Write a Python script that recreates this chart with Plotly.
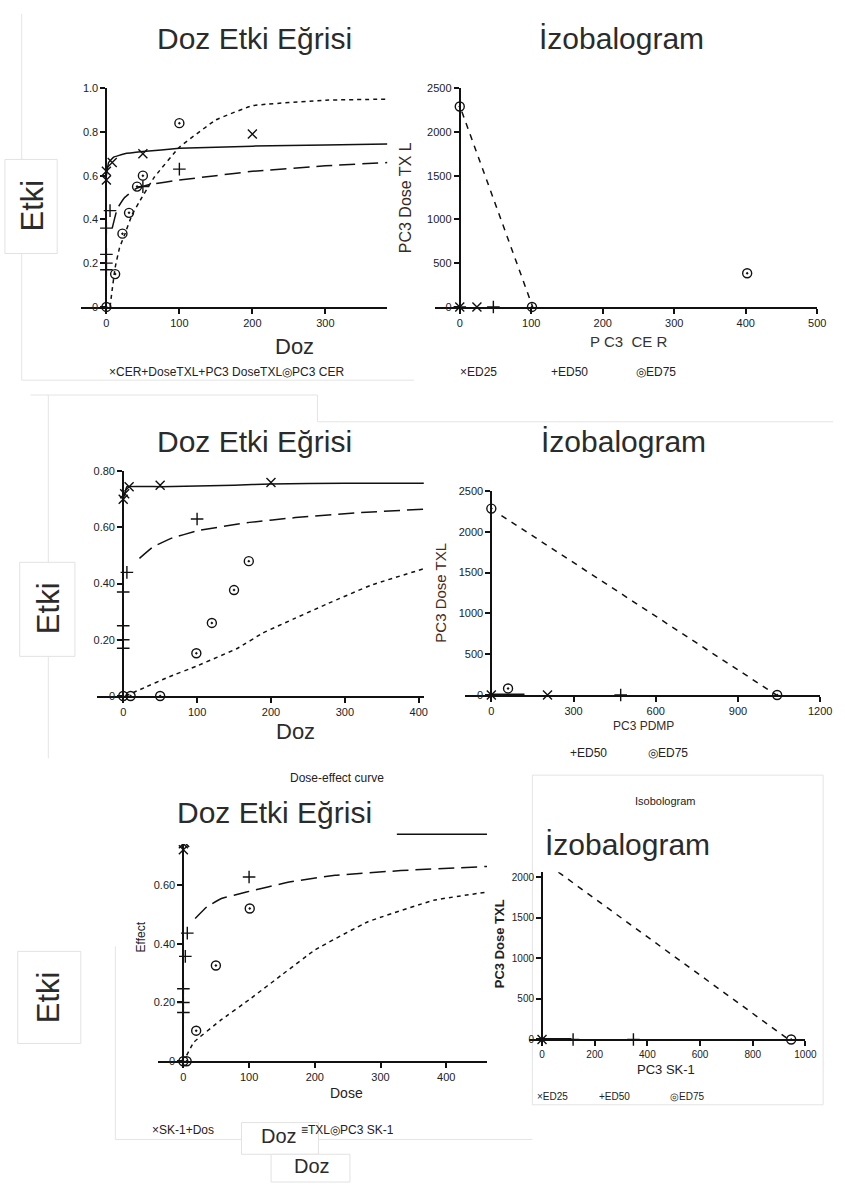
import plotly.graph_objects as go

W, H = 845, 1188


def fx(p):
    return p / W


def fy(p):
    return 1 - p / H


# ---------------- data ----------------
# Panel 1 : Doz Etki Egrisi (CER + TXL)
p1_solid_x = [0, 3, 10, 25, 50, 100, 200, 300, 385]
p1_solid_y = [0.60, 0.66, 0.685, 0.70, 0.71, 0.725, 0.735, 0.74, 0.745]
p1_long_x = [8, 15, 25, 40, 60, 100, 150, 200, 300, 385]
p1_long_y = [0.36, 0.45, 0.50, 0.54, 0.56, 0.58, 0.60, 0.62, 0.645, 0.66]
p1_dot_x = [5, 8, 12, 18, 25, 35, 45, 65, 100, 150, 200, 300, 385]
p1_dot_y = [0, 0.08, 0.18, 0.27, 0.33, 0.42, 0.48, 0.59, 0.73, 0.855, 0.92, 0.945, 0.95]
p1_comb_x = [0, 0, 8, 50, 200]
p1_comb_y = [0.58, 0.62, 0.66, 0.70, 0.79]
p1_txl_x = [0, 0, 0, 0, 5, 50, 100]
p1_txl_y = [0.17, 0.20, 0.24, 0.36, 0.44, 0.55, 0.63]
p1_cer_x = [0, 12, 22, 31, 42, 50, 100]
p1_cer_y = [0, 0.15, 0.335, 0.43, 0.55, 0.60, 0.84]

# Panel 2 : Izobalogram (PC3 CER)
p2_line_x = [3, 102]
p2_line_y = [2230, 0]
p2_ed25_x = [0, 24]
p2_ed25_y = [0, 0]
p2_ed50_x = [0, 47]
p2_ed50_y = [0, 0]
p2_ed75_x = [0, 101, 402]
p2_ed75_y = [2290, 0, 385]

# Panel 3 : Doz Etki Egrisi (PDMP + TXL)
p3_solid_x = [0, 3, 5, 50, 150, 200, 300, 407]
p3_solid_y = [0.70, 0.73, 0.745, 0.745, 0.75, 0.755, 0.757, 0.757]
p3_long_x = [22, 40, 64, 100, 171, 233, 322, 407]
p3_long_y = [0.49, 0.53, 0.56, 0.588, 0.618, 0.635, 0.653, 0.665]
p3_dot_x = [3, 29, 60, 100, 155, 189, 233, 278, 336, 407]
p3_dot_y = [0, 0.03, 0.066, 0.107, 0.17, 0.224, 0.277, 0.33, 0.395, 0.453]
p3_comb_x = [0, 2, 8, 50, 200]
p3_comb_y = [0.70, 0.72, 0.745, 0.75, 0.76]
p3_txl_x = [0, 0, 0, 0, 5, 100]
p3_txl_y = [0.17, 0.20, 0.25, 0.37, 0.44, 0.63]
p3_pdmp_x = [0, 10, 50, 99, 120, 150, 170]
p3_pdmp_y = [0, 0, 0, 0.152, 0.26, 0.377, 0.48]

# Panel 4 : Izobalogram (PC3 PDMP)
p4_line_x = [37, 1040]
p4_line_y = [2200, 0]
p4_seg_x = [0, 121]
p4_seg_y = [0, 0]
p4_ed25_x = [0, 205]
p4_ed25_y = [0, 0]
p4_ed50_x = [0, 472]
p4_ed50_y = [0, 0]
p4_ed75_x = [0, 1043, 61]
p4_ed75_y = [2285, 0, 80]

# Panel 5 : Dose-effect curve (SK-1 + TXL)
p5_solid_x = [0, 3, 10, 50, 100, 200, 300, 462]
p5_solid_y = [0.74, 0.76, 0.765, 0.77, 0.77, 0.772, 0.773, 0.773]
p5_long_x = [18, 36, 58, 96, 161, 231, 331, 462]
p5_long_y = [0.486, 0.526, 0.554, 0.576, 0.61, 0.633, 0.649, 0.663]
p5_dot_x = [5, 16, 56, 101, 151, 201, 281, 381, 462]
p5_dot_y = [0.02, 0.065, 0.138, 0.211, 0.296, 0.38, 0.475, 0.548, 0.576]
p5_comb_x = [0, 0, 2]
p5_comb_y = [0.72, 0.74, 0.745]
p5_txl_x = [0, 0, 0, 3, 6, 100]
p5_txl_y = [0.166, 0.20, 0.247, 0.357, 0.436, 0.627]
p5_sk_x = [0, 5, 19.5, 49.5, 101]
p5_sk_y = [0, 0, 0.104, 0.326, 0.52]

# Panel 6 : Isobologram (PC3 SK-1)
p6_line_x = [62, 936]
p6_line_y = [2060, 0]
p6_seg_x = [0, 112]
p6_seg_y = [0, 0]
p6_ed25_x = [0]
p6_ed25_y = [0]
p6_ed50_x = [118, 347]
p6_ed50_y = [0, 0]
p6_ed75_x = [946]
p6_ed75_y = [0]

# tick values / labels
p1_xt = [0, 100, 200, 300]
p1_yt = [0, 0.2, 0.4, 0.6, 0.8, 1.0]
p1_ytl = ["0", "0.2", "0.4", "0.6", "0.8", "1.0"]
p2_xt = [0, 100, 200, 300, 400, 500]
p2_yt = [0, 500, 1000, 1500, 2000, 2500]
p3_xt = [0, 100, 200, 300, 400]
p3_yt = [0, 0.2, 0.4, 0.6, 0.8]
p3_ytl = ["0", "0.20", "0.40", "0.60", "0.80"]
p4_xt = [0, 300, 600, 900, 1200]
p4_yt = [0, 500, 1000, 1500, 2000, 2500]
p5_xt = [0, 100, 200, 300, 400]
p5_yt = [0, 0.2, 0.4, 0.6]
p5_ytl = ["0", "0.20", "0.40", "0.60"]
p6_xt = [0, 200, 400, 600, 800, 1000]
p6_yt = [0, 500, 1000, 1500, 2000]

# ---------------- figure ----------------
fig = go.Figure()
BLACK = "#111111"
LONG = "16px,7px"
SHORT = "4px,4px"
ISO = "6px,6px"


def line(x, y, n, dash="solid", width=1.5):
    xa = "x" if n == 1 else "x%d" % n
    ya = "y" if n == 1 else "y%d" % n
    fig.add_trace(go.Scatter(x=x, y=y, xaxis=xa, yaxis=ya, mode="lines",
                             line=dict(color=BLACK, width=width, dash=dash,
                                       shape="spline", smoothing=0.25),
                             showlegend=False, hoverinfo="skip"))


def pts(x, y, n, symbol, size=9):
    xa = "x" if n == 1 else "x%d" % n
    ya = "y" if n == 1 else "y%d" % n
    fig.add_trace(go.Scatter(x=x, y=y, xaxis=xa, yaxis=ya, mode="markers",
                             marker=dict(symbol=symbol, size=size, color=BLACK,
                                         line=dict(color=BLACK, width=1.4)),
                             cliponaxis=False, showlegend=False, hoverinfo="skip"))


XS, PS, OS = "x-thin-open", "cross-thin-open", "circle-open-dot"

# panel 1
line(p1_solid_x, p1_solid_y, 1)
line(p1_long_x, p1_long_y, 1, LONG)
line(p1_dot_x, p1_dot_y, 1, SHORT)
pts(p1_comb_x, p1_comb_y, 1, XS)
pts(p1_txl_x, p1_txl_y, 1, PS)
pts(p1_cer_x, p1_cer_y, 1, OS)
# panel 2
line(p2_line_x, p2_line_y, 2, ISO)
pts(p2_ed25_x, p2_ed25_y, 2, XS)
pts(p2_ed50_x, p2_ed50_y, 2, PS)
pts(p2_ed75_x, p2_ed75_y, 2, OS)
# panel 3
line(p3_solid_x, p3_solid_y, 3)
line(p3_long_x, p3_long_y, 3, LONG)
line(p3_dot_x, p3_dot_y, 3, SHORT)
pts(p3_comb_x, p3_comb_y, 3, XS)
pts(p3_txl_x, p3_txl_y, 3, PS)
pts(p3_pdmp_x, p3_pdmp_y, 3, OS)
# panel 4
line(p4_line_x, p4_line_y, 4, ISO)
line(p4_seg_x, p4_seg_y, 4, "solid", 3)
pts(p4_ed25_x, p4_ed25_y, 4, XS)
pts(p4_ed50_x, p4_ed50_y, 4, PS)
pts(p4_ed75_x, p4_ed75_y, 4, OS)
# panel 5
line(p5_solid_x, p5_solid_y, 5)
line(p5_long_x, p5_long_y, 5, LONG)
line(p5_dot_x, p5_dot_y, 5, SHORT)
pts(p5_comb_x, p5_comb_y, 5, XS)
pts(p5_txl_x, p5_txl_y, 5, PS)
pts(p5_sk_x, p5_sk_y, 5, OS)
# panel 6
line(p6_line_x, p6_line_y, 6, ISO)
line(p6_seg_x, p6_seg_y, 6, "solid", 3)
pts(p6_ed25_x, p6_ed25_y, 6, XS)
pts(p6_ed50_x, p6_ed50_y, 6, PS)
pts(p6_ed75_x, p6_ed75_y, 6, OS)

TICKFONT = dict(family="Liberation Sans", size=11, color="#222222")


def axes(n, xpx, ypx, xr, yr, xt, yt, ytl=None, fs=11):
    xname = "xaxis" if n == 1 else "xaxis%d" % n
    yname = "yaxis" if n == 1 else "yaxis%d" % n
    ya = "y" if n == 1 else "y%d" % n
    zero_px = xpx[0] + (0 - xr[0]) / (xr[1] - xr[0]) * (xpx[1] - xpx[0])
    tf = dict(TICKFONT, size=fs)
    fig.layout[xname] = dict(domain=[fx(xpx[0]), fx(xpx[1])], range=xr, anchor=ya,
                             showgrid=False, zeroline=False, showline=True,
                             linecolor=BLACK, linewidth=2, ticks="outside",
                             ticklen=5, tickwidth=1.5, tickcolor=BLACK,
                             tickvals=xt, tickfont=tf, fixedrange=True)
    fig.layout[yname] = dict(domain=[fy(ypx[1]), fy(ypx[0])], range=yr, anchor="free",
                             position=fx(zero_px),
                             showgrid=False, zeroline=False, showline=True,
                             linecolor=BLACK, linewidth=2, ticks="outside",
                             ticklen=5, tickwidth=1.5, tickcolor=BLACK,
                             tickvals=yt, ticktext=ytl if ytl else [str(v) for v in yt],
                             tickfont=tf, fixedrange=True)


axes(1, (82, 393), (83, 304), [-35, 385], [0, 1.0], p1_xt, p1_yt, p1_ytl)
axes(2, (441, 829), (83, 304), [-35, 500], [0, 2500], p2_xt, p2_yt)
axes(3, (98, 430), (470, 697), [-36, 407], [0, 0.8], p3_xt, p3_yt, p3_ytl)
axes(4, (472, 832), (490, 696), [-95, 1200], [0, 2500], p4_xt, p4_yt)
axes(5, (160, 494), (828.6, 1066), [-39, 462], [0, 0.8], p5_xt, p5_yt, p5_ytl)
axes(6, (537, 817), (875, 1044), [-48, 1000], [0, 2060], p6_xt, p6_yt, fs=10)

shapes = []


def rect(x0, y0, x1, y1, fill="rgba(0,0,0,0)", color="#e4e4e4", layer="below", w=1):
    shapes.append(dict(type="rect", xref="paper", yref="paper",
                       x0=fx(x0), x1=fx(x1), y0=fy(y1), y1=fy(y0),
                       fillcolor=fill, line=dict(color=color, width=w), layer=layer))


def seg(x0, y0, x1, y1, color="#e4e4e4"):
    shapes.append(dict(type="line", xref="paper", yref="paper",
                       x0=fx(x0), x1=fx(x1), y0=fy(y0), y1=fy(y1),
                       line=dict(color=color, width=1), layer="below"))


# faint frames of the pasted images
seg(22, 8, 22, 378)
seg(22, 378, 420, 378)
seg(31, 393, 322, 393)
seg(322, 393, 322, 420)
seg(322, 420, 845, 420)
seg(49, 393, 49, 760)
seg(117, 950, 117, 1145)
seg(117, 1145, 540, 1145)
rect(540, 777, 835, 1110)
# white cover of the bottom title picture
rect(150, 792, 402, 846, fill="white", color="white", layer="above")
# white boxes behind Etki labels / Doz labels
rect(5, 155, 58, 250, fill="white", color="#e2e2e2", layer="above")
rect(20, 562, 76, 657, fill="white", color="#e2e2e2", layer="above")
rect(18, 955, 82, 1048, fill="white", color="#e2e2e2", layer="above")
rect(245, 1128, 323, 1160, fill="white", color="#e2e2e2", layer="above")
rect(275, 1160, 355, 1188, fill="white", color="#e2e2e2", layer="above")
fig.layout.shapes = shapes

anns = []


def text(t, px, py, size, color="#222222", family="Liberation Sans", angle=0):
    anns.append(dict(text=t, x=fx(px), y=fy(py), xref="paper", yref="paper",
                     xanchor="center", yanchor="middle", showarrow=False,
                     textangle=angle, font=dict(family=family, size=size, color=color)))


TITLE = "#2b2b2b"
text("Doz Etki Eğrisi", 258, 33, 30, TITLE)
text("İzobalogram", 630, 33, 30, TITLE)
text("Doz Etki Eğrisi", 258, 440, 30, TITLE)
text("İzobalogram", 632, 440, 30, TITLE)
text("Doz Etki Eğrisi", 278, 815, 30, TITLE)
text("İzobalogram", 637, 847, 30, TITLE)
text("Dose-effect curve", 342, 780, 12)
text("Isobologram", 675, 803, 11)

text("Etki", 33, 202, 31, TITLE, angle=-90)
text("Etki", 50, 608, 31, TITLE, angle=-90)
text("Etki", 50, 1001, 31, TITLE, angle=-90)

text("Doz", 299, 344, 22, TITLE)
text("Doz", 300, 733, 22, TITLE)
text("Doz", 283, 1142, 20, TITLE)
text("Doz", 316, 1172, 20, TITLE)

text("P C3  CE R", 638, 339, 15, "#333333")
text("PC3 Dose TX L", 411, 194, 16, "#3a2a24", angle=-90)
text("PC3 PDMP", 653, 727, 12, "#3a2a24")
text("PC3 Dose TXL", 446, 593, 15, "#4a2a20", angle=-90)
text("Effect", 143, 940, 12, "#222222", angle=-90)
text("Dose", 351, 1098, 14)
text("<b>PC3 Dose TXL</b>", 507, 947, 13, "#222222", angle=-90)
text("PC3 SK-1", 676, 1074, 13)

text("×CER+DoseTXL+PC3 DoseTXL◎PC3 CER", 230, 370, 12)
text("×ED25", 485, 370, 12)
text("+ED50", 578, 370, 12)
text("◎ED75", 665, 370, 12)
text("+ED50", 597, 755, 12)
text("◎ED75", 678, 755, 12)
text("×SK-1+Dos", 186, 1135, 12)
text("≡TXL◎PC3 SK-1", 352, 1135, 12)
text("×ED25", 560, 1102, 10)
text("+ED50", 623, 1102, 10)
text("◎ED75", 697, 1102, 10)
fig.layout.annotations = anns

fig.update_layout(width=W, height=H, margin=dict(l=0, r=0, t=0, b=0),
                  paper_bgcolor="white", plot_bgcolor="white", showlegend=False)

fig.write_html("out.html")
